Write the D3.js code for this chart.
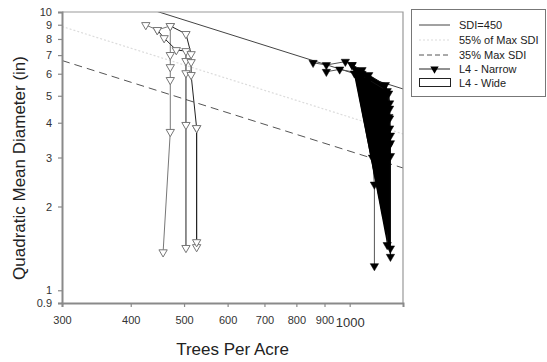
<!DOCTYPE html>
<html>
<head>
<meta charset="utf-8">
<script src="https://cdn.jsdelivr.net/npm/d3@7"></script>
<style>
  html, body { margin: 0; padding: 0; background: #fff; }
  svg { display: block; font-family: Arial, "Liberation Sans", sans-serif; }
</style>
</head>
<body>
<svg id="chart" width="547" height="362"></svg>
<script>
// Stand density reference levels (SDI), Reineke exponent 1.605
const sdiLevels = [450, 247.5, 157.5];
const sdiNames = ["SDI=450", "55% of Max SDI", "35% Max SDI"];

// Axis ticks
const xTicks = [300, 400, 500, 600, 700, 800, 900, 1000];
const yTicks = [0.9, 1, 2, 3, 4, 5, 6, 7, 8, 9, 10];

// L4 - Wide plots: [trees per acre, QMD] by measurement
const wideA = [[458, 1.37], [472, 3.71], [472, 5.70], [472, 6.34], [472, 7.01], [472, 8.91], [447, 8.62], [426, 8.98]];
const wideB = [[504, 1.42], [504, 3.93], [504, 6.03], [504, 6.67], [504, 7.24], [484, 7.30], [460, 8.06], [447, 8.62]];
const wideC = [[527, 1.43], [527, 3.83], [515, 5.94], [515, 6.61], [515, 7.06], [504, 8.34], [472, 8.91]];
const wideD = [[527, 1.49], [527, 3.83]];

// L4 - Narrow plots (filled between first and last measurement)
const narrowA = [[1186, 1.32], [1186, 3.04], [1186, 3.38], [1182, 3.82], [1182, 4.15], [1182, 4.70], [1177, 5.10], [1161, 5.47], [1083, 5.94], [1053, 6.19], [1010, 6.45]];
const narrowB = [[1170, 1.455], [1178, 3.30], [1178, 4.20], [1161, 5.03], [1083, 5.70], [1020, 6.02]];
const narrowC = [[1186, 1.415], [1186, 3.60], [1182, 4.50], [1170, 5.20], [1053, 5.90], [1025, 6.00]];
// L4 - Narrow plots drawn as open lines
const narrowD = [[1109, 1.222], [1109, 2.40], [1100, 3.00]];
const narrowE = [[1010, 6.45], [982, 6.63], [907, 6.45], [858, 6.57]];
const narrowF = [[1053, 6.00], [959, 6.22], [907, 6.10]];

const wideSeries = [wideA, wideB, wideC, wideD];
const narrowFilled = [narrowA, narrowB, narrowC];
const narrowOpen = [narrowD, narrowE, narrowF];

const svg = d3.select("#chart");
const mLeft = 62, mRight = 403, mTop = 12, mBottom = 303;

const x = d3.scaleLog().domain([300, 1250]).range([mLeft, mRight]);
const y = d3.scaleLog().domain([0.9, 10]).range([mBottom, mTop]);

svg.append("defs").append("clipPath").attr("id", "plotClip")
  .append("rect").attr("x", mLeft).attr("y", mTop).attr("width", mRight - mLeft).attr("height", mBottom - mTop);

const plot = svg.append("g").attr("clip-path", "url(#plotClip)");

// SDI reference lines: QMD = 10 * (SDI / TPA)^(1/1.605)
const qmdAt = (sdi, tpa) => 10 * Math.pow(sdi / tpa, 1 / 1.605);
const sdiStyles = [
  { stroke: "#444", dash: null, width: 1 },
  { stroke: "#dcdcdc", dash: "2,2", width: 1.2 },
  { stroke: "#555", dash: "8,5", width: 1 }
];
const xDom = x.domain();
sdiLevels.forEach((s, i) => {
  const pts = xDom.map(t => [t, qmdAt(s, t)]);
  plot.append("path")
    .attr("d", d3.line().x(d => x(d[0])).y(d => y(d[1]))(pts))
    .attr("fill", "none")
    .attr("stroke", sdiStyles[i].stroke)
    .attr("stroke-width", sdiStyles[i].width)
    .attr("stroke-dasharray", sdiStyles[i].dash);
});

const line = d3.line().x(d => x(d[0])).y(d => y(d[1]));
const tri = d3.symbol().type(d3.symbolTriangle).size(30);

narrowOpen.forEach(s => {
  plot.append("path").attr("d", line(s))
    .attr("fill", "none").attr("stroke", "#555").attr("stroke-width", 1);
});
narrowFilled.forEach(s => {
  plot.append("path").attr("d", line(s))
    .attr("fill", "#000").attr("stroke", "#111").attr("stroke-width", 1);
});
narrowFilled.concat(narrowOpen).forEach(s => {
  plot.selectAll(null).data(s).enter().append("path")
    .attr("d", tri)
    .attr("transform", d => `translate(${x(d[0])},${y(d[1])}) rotate(180)`)
    .attr("fill", "#000").attr("stroke", "#000").attr("stroke-width", 0.5);
});

// Wide plots
wideSeries.forEach((s, i) => {
  plot.append("path").attr("d", line(s))
    .attr("fill", "none").attr("stroke", i === 0 ? "#777" : "#222").attr("stroke-width", 1);
});
wideSeries.forEach(s => {
  plot.selectAll(null).data(s).enter().append("path")
    .attr("d", tri)
    .attr("transform", d => `translate(${x(d[0])},${y(d[1])}) rotate(180)`)
    .attr("fill", "#fff").attr("stroke", "#777").attr("stroke-width", 1);
});

// Frame
const axisColor = "#8a8a8a";
svg.append("path")
  .attr("d", `M${mLeft},${mTop}H${mRight}V${mBottom}`)
  .attr("fill", "none").attr("stroke", "#999").attr("stroke-width", 1.2);

// Axes
const xAxis = svg.append("g").attr("transform", `translate(0,${mBottom})`)
  .call(d3.axisBottom(x).tickValues(xTicks).tickSize(4).tickPadding(9).tickFormat(d3.format("d")));
const yAxis = svg.append("g").attr("transform", `translate(${mLeft},0)`)
  .call(d3.axisLeft(y).tickValues(yTicks).tickSize(4).tickPadding(6).tickFormat(d => String(d)));

[xAxis, yAxis].forEach(a => {
  a.select(".domain").attr("stroke", axisColor).attr("stroke-width", 2);
  a.selectAll(".tick line").attr("stroke", axisColor).attr("stroke-width", 1.2);
  a.selectAll(".tick text").attr("fill", "#333").attr("font-size", 11)
    .attr("font-family", "Arial, 'Liberation Sans', sans-serif");
});
xAxis.selectAll(".tick text").filter(d => d === 1000).attr("font-size", 13).attr("dy", "0.85em");

// Axis titles
svg.append("text")
  .attr("x", (mLeft + mRight) / 2).attr("y", 355)
  .attr("text-anchor", "middle").attr("font-size", 17).attr("fill", "#222")
  .text("Trees Per Acre");
svg.append("text")
  .attr("transform", `translate(25,168) rotate(-90)`)
  .attr("text-anchor", "middle").attr("font-size", 17).attr("fill", "#222")
  .text("Quadratic Mean Diameter (in)");

// Legend
const lg = svg.append("g");
lg.append("rect").attr("x", 411.5).attr("y", 9.5).attr("width", 134).attr("height", 87)
  .attr("fill", "#fff").attr("stroke", "#777").attr("stroke-width", 1);
const legendNames = sdiNames.concat(["L4 - Narrow", "L4 - Wide"]);
const rowY = [25, 40, 55, 69, 83];
legendNames.forEach((name, i) => {
  const yy = rowY[i];
  if (i < 3) {
    lg.append("line").attr("x1", 419).attr("x2", 450).attr("y1", yy).attr("y2", yy)
      .attr("stroke", sdiStyles[i].stroke).attr("stroke-width", sdiStyles[i].width)
      .attr("stroke-dasharray", i === 2 ? "5,3" : sdiStyles[i].dash);
  } else if (i === 3) {
    lg.append("line").attr("x1", 419).attr("x2", 450).attr("y1", yy).attr("y2", yy)
      .attr("stroke", "#222").attr("stroke-width", 1);
    lg.append("path").attr("d", tri).attr("transform", `translate(434.5,${yy}) rotate(180)`)
      .attr("fill", "#000");
  } else {
    lg.append("rect").attr("x", 419.5).attr("y", yy - 4.5).attr("width", 31).attr("height", 8)
      .attr("fill", "#fff").attr("stroke", "#222").attr("stroke-width", 1);
  }
  lg.append("text").attr("x", 459).attr("y", yy + 4).attr("font-size", 11).attr("fill", "#222")
    .text(name);
});
</script>
</body>
</html>
